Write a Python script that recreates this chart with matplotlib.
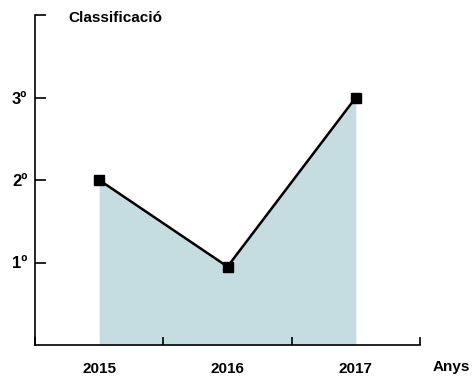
import matplotlib.pyplot as plt

plt.rcParams['font.family'] = ['Liberation Sans', 'DejaVu Sans']

years = [2015, 2016, 2017]
position = [2, 0.95, 3]
ytick_vals = [1, 2, 3, 4]
ytick_labels = ["1º", "2º", "3º", ""]

fig = plt.figure(figsize=(4.72, 3.81), dpi=100)
ax = fig.add_axes([35 / 472, 36 / 381, 385 / 472, 330 / 381])

ax.fill_between(years, position, 0, color="#c5dce0", linewidth=0)
ax.plot(years, position, color="black", linewidth=1.8, marker="s",
        markersize=7, markerfacecolor="black", markeredgecolor="black")

ax.set_xlim(2014.5, 2017.5)
ax.set_ylim(0, 4)

ax.spines["top"].set_visible(False)
ax.spines["right"].set_visible(False)
ax.spines["left"].set_linewidth(1.2)
ax.spines["bottom"].set_linewidth(1.2)

# boundary ticks without labels, year labels as minor ticks
ax.set_xticks([2014.5, 2015.5, 2016.5, 2017.5])
ax.set_xticklabels([])
ax.set_xticks(years, minor=True)
ax.set_xticklabels([str(y) for y in years], minor=True,
                   fontsize=11, fontweight="bold")
ax.tick_params(axis="x", which="major", direction="in", length=6, width=1.2)
ax.tick_params(axis="x", which="minor", length=0, pad=12)

ax.set_yticks(ytick_vals)
ax.set_yticklabels(ytick_labels, fontsize=12, fontweight="bold")
ax.tick_params(axis="y", direction="in", length=8, width=1.2, pad=5.5)

fig.text(68 / 472, 1 - 18 / 381, "Classificació", fontsize=11,
         fontweight="bold", va="center", ha="left")
fig.text(433 / 472, 1 - 367 / 381, "Anys", fontsize=11,
         fontweight="bold", va="center", ha="left")

fig.savefig("out.png", dpi=100)
